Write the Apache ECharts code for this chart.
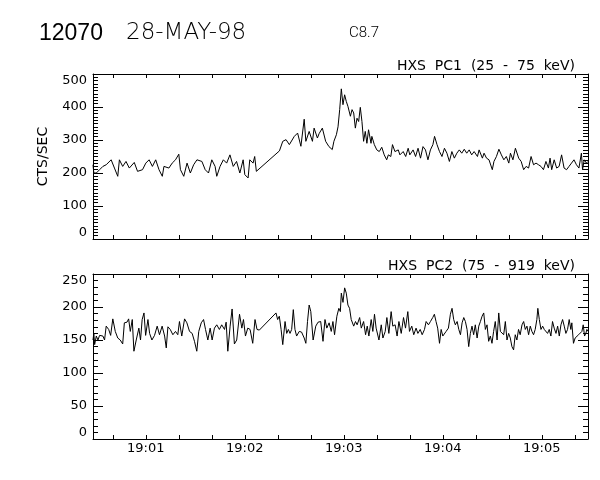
<!DOCTYPE html>
<html><head><meta charset="utf-8">
<script src="https://cdn.jsdelivr.net/npm/echarts@6/dist/echarts.min.js"></script>
<style>html,body{margin:0;padding:0;background:#fff}#c{width:600px;height:480px}</style>
</head><body><div id="c"></div>
<script>
// time in seconds after 19:00:00 UT
const pc1Time = [28,28.5,30,32,34,36,37,39,41,43,44,46,48,50,53,55,58,60,62,64,66,68,70,71,74,76,78,80,81,83,85,87,89,91,94,96,98,100,102,103,105,107,109,111,113,115,117,119,120,122,123,125,126,127,
141,143,145,147,150,152,154,156,157,159,161,162,164,165,167,169,171,173,174,175.5,176.5,177.5,178.5,179.5,180.5,181.5,182.5,184,185,186,187,188,189,190,191,192,193,194,195,196.5,197,198.5,200,201.5,203,204.5,206,207,208.5,209.5,211,213,214,216,217.5,219,220,222,223.5,225,226.5,228,229.5,231,232.5,234,235,236.5,238,239.5,241,242.5,244,245.5,247,248.5,250,251.5,253,254.5,256,257.5,259,261,262,264,265,266.5,268,270,271,272.5,274,275.5,277,278.5,280,281,282.5,284,286,287.5,289,290.5,292,293.5,295,296.5,298,299.5,301,302.5,304,305,306,307.5,309,310.5,312,313.5,315,316.5,318,319.5,321,322.5,324,324.7,325.7,327,328];
const pc1Counts = [225,200,200,210,220,225,220,240,215,190,240,220,235,215,232,205,210,230,240,220,240,210,190,220,215,230,240,257,210,190,230,200,225,240,235,210,200,240,220,190,220,240,230,255,220,235,200,240,195,185,240,230,250,205,
267,296,301,286,311,321,281,363,296,326,296,336,306,319,336,296,280,271,296,316,340,392,455,407,437,417,402,372,392,382,336,366,356,399,356,296,326,290,331,290,311,286,270,265,278,255,240,255,250,286,265,270,255,265,250,275,255,270,250,275,245,280,270,240,270,286,311,286,265,250,275,260,235,265,245,260,270,260,272,260,270,255,265,250,270,245,260,245,240,210,235,250,272,255,240,250,230,260,240,275,245,235,210,220,215,250,225,230,225,220,210,235,215,245,210,240,215,220,255,215,210,220,230,240,225,215,260,210,240,230,235];
const pc2Time = [28,28.5,29,30,31,32,34,35,36,37.5,38.7,40,41.5,43,44.5,46,47,48.6,49.6,50.6,51.8,52.8,54.2,55.8,56.8,57.8,58.9,59.9,61.3,62.3,63.7,65.3,66.9,68.3,69.9,71.4,72.4,73.4,74.8,76.4,78,79.4,80.4,81.8,83.5,84.9,86.5,88.1,89.5,90.9,92.1,93.6,95,96.2,97.6,99,100.2,101.6,103,104.6,106,107.7,108.7,109.7,111.1,112.3,113.7,115.1,116.8,118.2,119.2,120.4,121.8,123.2,124.8,126.2,127.4,128.8,
138.9,139.9,140.9,142,143,144.4,145.4,146.4,147.4,148.4,149.4,150.4,151.4,153,154.4,156,157,158,159,160,161.4,163,164.4,166,167.4,168.6,169.7,171.1,172.4,173.4,174.4,175.8,177,177.9,178.5,179.5,180.5,181.5,182.5,183.5,184.5,186,187.1,188.1,189.6,190.6,192,193.2,194.2,195.2,196.6,197.6,198.6,199.6,201.3,202.7,203.7,205.1,206.1,207.3,208.7,209.7,211.1,212.3,213.4,214.8,216.2,217.4,218.8,219.8,221.2,222.4,223.8,224.9,226.3,227.5,228.9,229.9,231.3,232.5,233.9,234.9,235.9,236.9,238,239,240,241,242,243.4,244.6,245.6,246.6,247.6,248.7,249.7,250.7,251.7,252.7,253.7,254.7,255.7,256.7,257.7,258.7,259.7,260.8,261.8,262.8,263.8,264.8,265.8,266.8,267.8,268.8,269.8,270.8,271.8,272.9,273.9,274.9,275.9,276.9,277.9,278.9,279.9,280.9,281.9,282.9,283.9,284.9,285.9,286.9,288,289,290,291,292,293,294,295,296,297,297.6,298.5,299.5,300.5,301.5,302.5,303.5,304.5,305.5,306.5,307.5,308.6,309.6,310.6,311.6,312.6,313.6,314.6,315.6,316.6,317.6,318.2,319.2,320.2,321.2,322.3,323.3,324.3,325.1,325.9,326.7,327.3,328];
const pc2Counts = [150,160,143,156,150,157,156,150,171,166,157,182,163,153,150,144,176,177,182,163,181,133,150,168,150,181,191,157,181,160,150,157,171,158,171,156,138,170,166,158,163,158,178,156,182,176,163,160,148,133,163,176,181,166,150,168,150,168,173,166,173,166,177,133,171,197,144,150,189,168,181,156,168,166,145,181,166,165,
191,181,186,166,143,178,160,166,160,166,196,166,156,163,162,153,145,178,203,193,150,171,177,178,148,181,168,176,163,178,158,186,198,193,221,207,229,221,203,198,181,171,178,173,184,168,178,158,171,156,181,163,189,168,150,173,153,163,184,160,193,171,173,156,178,160,184,168,193,163,171,158,168,160,166,158,166,178,173,178,184,189,178,168,145,166,156,158,163,168,189,198,181,173,178,166,158,176,184,178,166,140,160,171,158,173,153,171,178,186,191,166,173,148,156,145,163,178,150,191,163,166,158,178,150,160,153,140,135,158,150,166,158,173,178,166,171,158,171,163,158,166,181,198,181,166,171,166,163,160,166,156,178,168,160,171,156,173,181,171,160,166,181,166,176,145,153,150,158,156,163,173,156,160,166,163];

const timeTickSeconds = [40,60,80,100,120,140,160,180,200,220,240,260,280,300,320];
const timeLabelSeconds = [60,120,180,240,300];
const timeLabels = ['19:01','19:02','19:03','19:04','19:05'];
const pc1YTicks = [0,100,200,300,400,500];
const pc2YTicks = [0,50,100,150,200,250];
const titleNumber = '12070';
const titleDate = '28-MAY-98';
const titleClass = 'C8.7';
const pc1Label = 'HXS  PC1  (25  -  75  keV)';
const pc2Label = 'HXS  PC2  (75  -  919  keV)';
const yName = 'CTS/SEC';

const FONT = 'DejaVu Sans';
function xAx(gridIndex, position, showLabel) {
  return {
    type: 'value', gridIndex, position, min: 28, max: 328,
    axisLine: {show: true, onZero: false, lineStyle: {color: '#000', width: 1}},
    axisTick: {show: true, inside: true, length: 4, customValues: timeTickSeconds, lineStyle: {color: '#000', width: 1}},
    axisLabel: {show: showLabel, customValues: timeLabelSeconds,
      formatter: v => { const i = timeLabelSeconds.indexOf(Math.round(v)); return i >= 0 ? timeLabels[i] : ''; },
      color: '#000', fontFamily: FONT, fontSize: 13, margin: 3},
    splitLine: {show: false}
  };
}
function yAx(gridIndex, position, ticks, minorSplit, showLabel, name) {
  const o = {
    type: 'value', gridIndex, position, min: ticks[0], max: ticks[ticks.length - 1],
    interval: ticks[1] - ticks[0],
    axisLine: {show: true, onZero: false, lineStyle: {color: '#000', width: 1}},
    axisTick: {show: true, inside: true, length: 10, lineStyle: {color: '#000', width: 1}},
    minorTick: {show: true, splitNumber: minorSplit, length: 5, lineStyle: {color: '#000', width: 1}},
    axisLabel: {show: showLabel, color: '#000', fontFamily: FONT, fontSize: 13, margin: 6,
      verticalAlignMinLabel: 'bottom', verticalAlignMaxLabel: 'top'},
    splitLine: {show: false}, minorSplitLine: {show: false}
  };
  if (name) {
    o.name = name; o.nameLocation = 'middle'; o.nameGap = 43; o.nameRotate = 90;
    o.nameTextStyle = {color: '#000', fontFamily: FONT, fontSize: 14};
  }
  return o;
}
const chart = echarts.init(document.getElementById('c'), null, {renderer: 'canvas'});
chart.setOption({
  animation: false,
  backgroundColor: '#fff',
  grid: [
    {left: 93, top: 74, width: 495, height: 165},
    {left: 93, top: 274, width: 495, height: 165}
  ],
  xAxis: [xAx(0, 'bottom', false), xAx(0, 'top', false), xAx(1, 'bottom', true), xAx(1, 'top', false)],
  yAxis: [yAx(0, 'left', pc1YTicks, 10, true, yName), yAx(0, 'right', pc1YTicks, 10, false),
          yAx(1, 'left', pc2YTicks, 5, true), yAx(1, 'right', pc2YTicks, 5, false)],
  series: [
    {type: 'line', xAxisIndex: 0, yAxisIndex: 0, showSymbol: false, symbol: 'none',
     lineStyle: {color: '#000', width: 1}, data: pc1Time.map((t, i) => [t, pc1Counts[i]])},
    {type: 'line', xAxisIndex: 2, yAxisIndex: 2, showSymbol: false, symbol: 'none',
     lineStyle: {color: '#000', width: 1}, data: pc2Time.map((t, i) => [t, pc2Counts[i]])}
  ],
  graphic: [
    {type: 'text', left: 39, top: 22, style: {text: titleNumber, fill: '#000', font: '23px "Liberation Sans"'}},
    {type: 'text', left: 126, top: 22, style: {text: titleDate, fill: '#000', font: '200 23px "DejaVu Sans"'}},
    {type: 'text', left: 349, top: 26, style: {text: titleClass, fill: '#000', font: '300 15px Roboto'}},
    {type: 'text', right: 25, top: 59, style: {text: pc1Label, fill: '#000', font: '14px "DejaVu Sans"'}},
    {type: 'text', right: 25, top: 259, style: {text: pc2Label, fill: '#000', font: '14px "DejaVu Sans"'}}
  ]
});
</script></body></html>
